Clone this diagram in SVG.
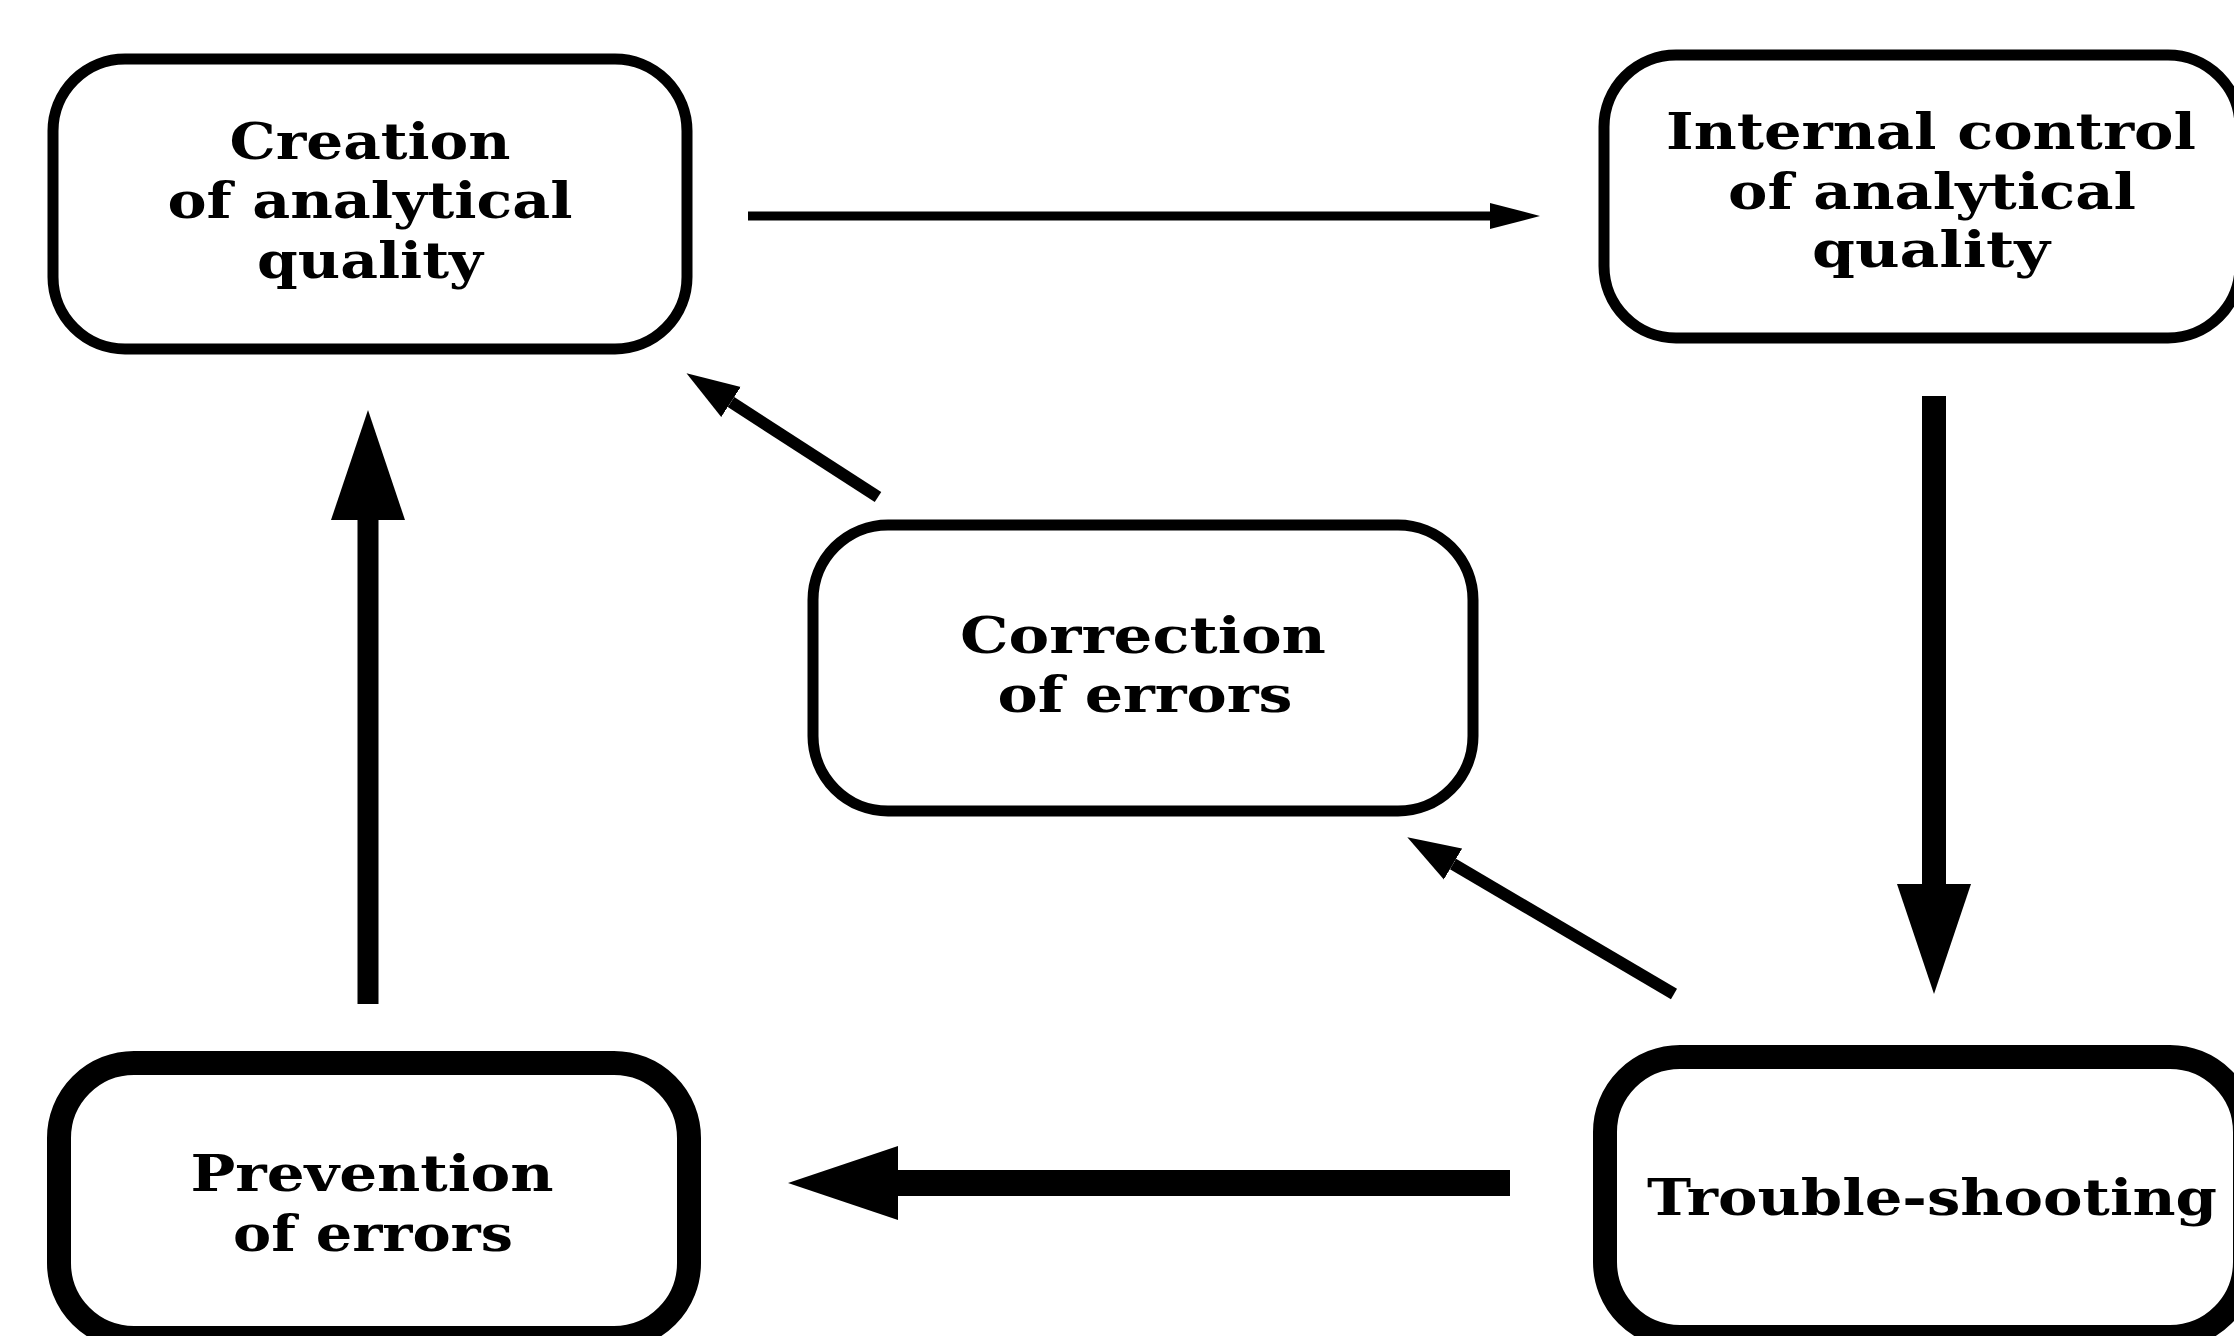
<svg xmlns="http://www.w3.org/2000/svg" width="2234" height="1336" viewBox="0 0 2234 1336">
  <style>
    .box { fill: #ffffff; stroke: #000000; }
    .thin { stroke-width: 11; }
    .thick { stroke-width: 24; }
    .lbl { font-family: "DejaVu Serif", "Liberation Serif", serif; font-weight: bold; font-size: 51px; fill: #000000; text-anchor: middle; }
    .conn { stroke: #000000; fill: none; stroke-linecap: butt; }
  </style>
  <defs>
    <marker id="headBig" markerUnits="userSpaceOnUse" viewBox="0 -38 112 76" markerWidth="112" markerHeight="76" refX="0" refY="0" orient="auto">
      <path d="M0,-37 L110,0 L0,37 Z" fill="#000000"/>
    </marker>
    <marker id="headSmall" markerUnits="userSpaceOnUse" viewBox="0 -14 52 28" markerWidth="52" markerHeight="28" refX="0" refY="0" orient="auto">
      <path d="M0,-13 L50,0 L0,13 Z" fill="#000000"/>
    </marker>
    <marker id="headDiag" markerUnits="userSpaceOnUse" viewBox="0 -19 56 38" markerWidth="56" markerHeight="38" refX="0" refY="0" orient="auto">
      <path d="M0,-18 L53,0 L0,18 Z" fill="#000000"/>
    </marker>
  </defs>
  <rect width="2234" height="1336" fill="#ffffff"/>

  <g id="connectors">
    <line class="conn" x1="748" y1="216" x2="1490" y2="216" stroke-width="9" marker-end="url(#headSmall)"/>
    <line class="conn" x1="1934" y1="396" x2="1934" y2="884" stroke-width="24" marker-end="url(#headBig)"/>
    <line class="conn" x1="1510" y1="1183" x2="898" y2="1183" stroke-width="26" marker-end="url(#headBig)"/>
    <line class="conn" x1="368" y1="1004" x2="368" y2="520" stroke-width="21" marker-end="url(#headBig)"/>
    <line class="conn" x1="1674" y1="994" x2="1453" y2="864" stroke-width="12" marker-end="url(#headDiag)"/>
    <line class="conn" x1="878" y1="497" x2="731" y2="402" stroke-width="12" marker-end="url(#headDiag)"/>
  </g>

  <g id="node-creation">
    <rect class="box thin" x="53" y="59" width="634" height="290" rx="72" ry="72"/>
    <text class="lbl" x="370" y="159" textLength="281" lengthAdjust="spacingAndGlyphs">Creation</text>
    <text class="lbl" x="370" y="218" textLength="405" lengthAdjust="spacingAndGlyphs">of analytical</text>
    <text class="lbl" x="370" y="278" textLength="226" lengthAdjust="spacingAndGlyphs">quality</text>
  </g>

  <g id="node-internal-control">
    <rect class="box thin" x="1604" y="55" width="636" height="283" rx="72" ry="72"/>
    <text class="lbl" x="1931" y="149" textLength="530" lengthAdjust="spacingAndGlyphs">Internal control</text>
    <text class="lbl" x="1932" y="209" textLength="408" lengthAdjust="spacingAndGlyphs">of analytical</text>
    <text class="lbl" x="1931" y="267" textLength="238" lengthAdjust="spacingAndGlyphs">quality</text>
  </g>

  <g id="node-correction">
    <rect class="box thin" x="813" y="525" width="660" height="286" rx="75" ry="75"/>
    <text class="lbl" x="1143" y="653" textLength="366" lengthAdjust="spacingAndGlyphs">Correction</text>
    <text class="lbl" x="1145" y="712" textLength="295" lengthAdjust="spacingAndGlyphs">of errors</text>
  </g>

  <g id="node-prevention">
    <rect class="box thick" x="59" y="1063" width="630" height="275" rx="75" ry="75"/>
    <text class="lbl" x="372" y="1191" textLength="363" lengthAdjust="spacingAndGlyphs">Prevention</text>
    <text class="lbl" x="373" y="1251" textLength="280" lengthAdjust="spacingAndGlyphs">of errors</text>
  </g>

  <g id="node-trouble-shooting">
    <rect class="box thick" x="1605" y="1057" width="640" height="280" rx="75" ry="75"/>
    <text class="lbl" x="1932" y="1215" textLength="570" lengthAdjust="spacingAndGlyphs">Trouble-shooting</text>
  </g>
</svg>
